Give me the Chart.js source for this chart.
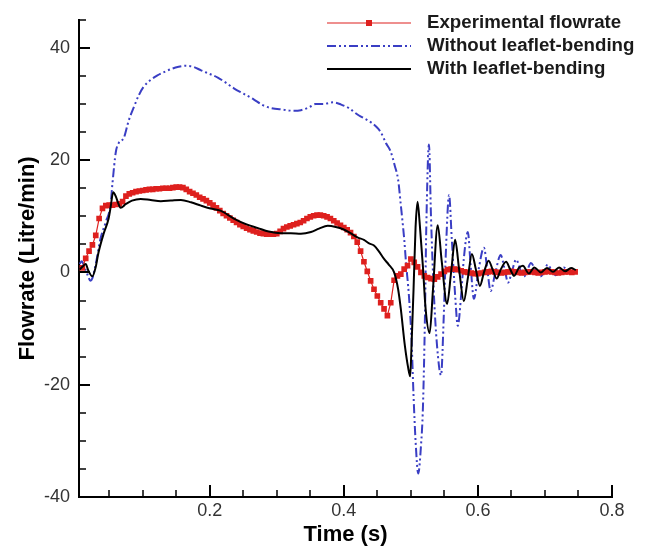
<!DOCTYPE html>
<html>
<head>
<meta charset="utf-8">
<script src="https://cdn.jsdelivr.net/npm/chart.js@4/dist/chart.umd.min.js"></script>
<style>
html, body { margin: 0; padding: 0; background: #fff; }
#wrap { width: 648px; height: 549px; }
</style>
</head>
<body>
<div id="wrap"><canvas id="chart" width="648" height="549"></canvas></div>
<script>
// experimental flowrate (red squares)
var expTime = [0.010,0.015,0.020,0.025,0.030,0.035,0.040,0.045,0.050,0.055,0.060,0.065,0.070,0.075,0.080,0.085,0.090,0.095,0.100,0.105,
	0.110,0.115,0.120,0.125,0.130,0.135,0.140,0.145,0.150,0.155,0.160,0.165,0.170,0.175,0.180,0.185,0.190,0.195,0.200,0.205,
	0.210,0.215,0.220,0.225,0.230,0.235,0.240,0.245,0.250,0.255,0.260,0.265,0.270,0.275,0.280,0.285,0.290,0.295,0.300,0.305,
	0.310,0.315,0.320,0.325,0.330,0.335,0.340,0.345,0.350,0.355,0.360,0.365,0.370,0.375,0.380,0.385,0.390,0.395,0.400,0.405,
	0.410,0.415,0.420,0.425,0.430,0.435,0.440,0.445,0.450,0.455,0.460,0.465,0.470,0.475,0.480,0.485,0.490,0.495,0.500,0.505,
	0.510,0.515,0.520,0.525,0.530,0.535,0.540,0.545,0.550,0.555,0.560,0.565,0.570,0.575,0.580,0.585,0.590,0.595,0.600,0.605,
	0.610,0.615,0.620,0.625,0.630,0.635,0.640,0.645,0.650,0.655,0.660,0.665,0.670,0.675,0.680,0.685,0.690,0.695,0.700,0.705,
	0.710,0.715,0.720,0.725,0.730,0.735,0.740,0.745];
var expFlow = [0.8,2.5,3.8,4.9,6.6,9.6,11.4,11.9,12.0,12.0,12.1,12.2,12.6,13.6,14.0,14.2,14.4,14.5,14.6,14.7,
	14.8,14.8,14.9,14.9,15.0,15.0,15.0,15.1,15.2,15.2,15.1,14.8,14.4,14.1,13.8,13.4,13.1,12.8,12.4,12.0,
	11.5,11.0,10.5,10.1,9.7,9.3,8.9,8.5,8.2,7.9,7.6,7.4,7.2,7.0,6.9,6.8,6.8,6.8,6.9,7.3,
	7.8,8.1,8.3,8.5,8.7,8.9,9.2,9.6,9.9,10.1,10.2,10.2,10.1,9.9,9.6,9.2,8.8,8.4,8.0,7.6,
	7.1,6.4,5.4,3.8,1.9,0.2,-1.5,-3.0,-4.2,-5.4,-6.5,-7.7,-5.4,-1.4,-0.6,-0.3,0.6,1.2,2.4,1.8,
	1.0,0.0,-0.6,-0.9,-1.1,-1.2,-0.8,-0.3,0.2,0.5,0.6,0.6,0.5,0.3,0.1,0.0,-0.1,-0.2,-0.2,-0.1,
	0.0,0.1,0.2,0.1,0.0,-0.1,0.0,0.1,0.2,0.1,0.0,-0.1,0.0,0.1,0.1,0.0,-0.1,0.0,0.1,0.2,
	0.1,0.0,-0.1,0.0,0.1,0.1,0.0,0.1];

// without leaflet-bending (blue dash-dot-dot)
var noBendTime = [0.006,0.009,0.013,0.018,0.022,0.025,0.030,0.037,0.045,0.052,0.055,0.060,0.064,0.072,0.079,0.087,0.094,0.101,0.112,0.122,
	0.134,0.149,0.164,0.176,0.187,0.201,0.212,0.224,0.236,0.251,0.266,0.279,0.291,0.310,0.324,0.336,0.348,0.358,0.369,0.384,
	0.396,0.407,0.422,0.437,0.448,0.455,0.463,0.470,0.476,0.481,0.485,0.490,0.493,0.497,0.501,0.504,0.507,0.511,0.515,0.518,
	0.521,0.523,0.527,0.530,0.534,0.539,0.545,0.549,0.552,0.557,0.561,0.566,0.570,0.575,0.579,0.585,0.589,0.594,0.601,0.609,
	0.614,0.619,0.626,0.634,0.640,0.645,0.651,0.657,0.663,0.669,0.674,0.679,0.686,0.694,0.699,0.704,0.710,0.716,0.722,0.728,
	0.734,0.739,0.746];
var noBendFlow = [1.5,2.0,1.0,-0.5,-1.5,-1.0,1.5,6.0,9.0,12.0,16.0,21.5,23.0,24.0,27.0,29.5,31.5,33.0,34.3,35.1,
	35.8,36.5,36.8,36.6,36.0,35.3,34.7,33.8,32.8,31.8,30.8,29.8,29.3,29.0,28.8,28.9,29.4,30.0,30.0,30.3,
	29.9,29.3,28.0,27.0,26.0,25.0,23.0,21.5,19.0,16.5,12.0,6.0,1.4,-4.0,-12.0,-22.0,-30.0,-35.8,-31.0,-24.0,
	-8.0,8.0,22.8,10.0,-3.0,-13.0,-18.3,-8.0,3.0,13.8,6.0,-4.0,-9.5,-4.0,2.5,7.2,1.5,-4.7,0.5,4.4,
	0.5,-3.3,0.0,3.1,0.5,-1.8,0.3,2.3,0.6,-0.7,0.5,1.7,0.4,-0.7,0.3,1.4,0.3,-0.5,0.2,0.9,
	0.2,-0.3,0.3];

// with leaflet-bending (black solid)
var bendTime = [0.006,0.010,0.015,0.019,0.025,0.030,0.034,0.042,0.049,0.052,0.056,0.060,0.063,0.067,0.075,0.084,0.097,0.112,0.127,0.142,
	0.157,0.172,0.187,0.201,0.216,0.236,0.254,0.272,0.288,0.306,0.321,0.336,0.351,0.363,0.376,0.388,0.399,0.410,0.421,0.430,
	0.437,0.445,0.452,0.460,0.467,0.475,0.481,0.485,0.491,0.496,0.499,0.501,0.504,0.507,0.510,0.513,0.518,0.522,0.528,0.533,
	0.540,0.546,0.554,0.560,0.566,0.572,0.579,0.585,0.591,0.597,0.603,0.609,0.616,0.622,0.628,0.634,0.642,0.648,0.654,0.661,
	0.667,0.676,0.684,0.694,0.703,0.712,0.721,0.730,0.739,0.746];
var bendFlow = [0.5,1.0,1.5,0.3,-0.7,1.0,3.5,7.0,9.5,11.5,14.3,13.5,12.5,11.5,12.2,12.8,13.1,12.9,12.7,12.8,
	12.9,12.5,11.9,11.4,11.0,9.6,8.6,7.9,7.3,7.0,7.0,6.9,7.2,7.8,8.3,8.1,7.7,7.0,6.2,5.8,
	5.2,4.8,3.8,2.4,1.4,0.0,-3.0,-6.5,-13.0,-17.0,-18.5,-13.0,-3.0,8.0,12.6,9.0,1.0,-6.5,-10.8,-3.0,
	8.4,2.0,-5.6,0.0,5.8,0.5,-5.1,-1.0,3.3,0.5,-2.4,0.0,2.1,0.5,-1.1,0.5,1.9,0.6,-0.6,0.8,
	1.2,-0.2,0.9,0.0,0.8,0.1,0.9,0.2,0.8,0.4];

var xTicks = [0.2, 0.4, 0.6, 0.8];
var yTicks = [-40, -20, 0, 20, 40];

var RED = "rgb(222, 32, 30)";
var BLUE = "rgb(58, 62, 196)";
var BLACK = "#000";
var FONT = "'Liberation Sans', Arial, sans-serif";

function pts(t, v) {
	var out = [];
	for (var i = 0; i < t.length; i++) out.push({x: t[i], y: v[i]});
	return out;
}

// inward tick marks + legend
var decor = {
	id: "decor",
	afterDraw: function(chart) {
		var c = chart.ctx;
		var xs = chart.scales.x, ys = chart.scales.y;
		var L = chart.chartArea.left, B = chart.chartArea.bottom;
		c.save();
		c.strokeStyle = "#000";
		// x ticks
		for (var t = 0.05; t <= 0.801; t += 0.05) {
			var major = Math.abs(t * 5 - Math.round(t * 5)) < 1e-6;
			var px = Math.round(xs.getPixelForValue(t));
			c.lineWidth = major ? 2 : 1.5;
			c.beginPath();
			c.moveTo(px, B);
			c.lineTo(px, B - (major ? 12 : 7));
			c.stroke();
		}
		// y ticks
		for (var v = -40; v <= 45; v += 5) {
			var maj = v % 20 === 0;
			var py = Math.round(ys.getPixelForValue(v));
			c.lineWidth = maj ? 2 : 1.5;
			c.beginPath();
			c.moveTo(L, py);
			c.lineTo(L + (maj ? 11 : 7), py);
			c.stroke();
		}
		// legend
		var x0 = 327, x1 = 411, tx = 427;
		var rows = [23, 46, 69];
		c.lineWidth = 1.2;
		c.strokeStyle = RED;
		c.beginPath(); c.moveTo(x0, rows[0]); c.lineTo(x1, rows[0]); c.stroke();
		c.fillStyle = RED;
		c.fillRect(366, rows[0] - 3, 6, 6);
		c.lineWidth = 2;
		c.strokeStyle = BLUE;
		c.setLineDash([9, 3, 2, 3, 2, 3]);
		c.beginPath(); c.moveTo(x0, rows[1]); c.lineTo(x1, rows[1]); c.stroke();
		c.setLineDash([]);
		c.strokeStyle = BLACK;
		c.beginPath(); c.moveTo(x0, rows[2]); c.lineTo(x1, rows[2]); c.stroke();
		c.fillStyle = "#1a1a1a";
		c.font = "bold 18.7px " + FONT;
		c.textBaseline = "middle";
		c.textAlign = "left";
		c.fillText("Experimental flowrate", tx, rows[0]);
		c.fillText("Without leaflet-bending", tx, rows[1]);
		c.fillText("With leaflet-bending", tx, rows[2]);
		c.restore();
	}
};

new Chart(document.getElementById("chart"), {
	type: "scatter",
	data: {
		datasets: [{
			label: "Experimental flowrate",
			data: pts(expTime, expFlow),
			showLine: true,
			borderColor: RED,
			borderWidth: 1.2,
			pointStyle: "rect",
			pointRadius: 4,
			pointBackgroundColor: RED,
			pointBorderWidth: 0,
			order: 1
		}, {
			label: "Without leaflet-bending",
			data: pts(noBendTime, noBendFlow),
			showLine: true,
			borderColor: BLUE,
			borderWidth: 2,
			borderDash: [9, 3, 2, 3, 2, 3],
			pointRadius: 0,
			cubicInterpolationMode: "monotone",
			order: 2
		}, {
			label: "With leaflet-bending",
			data: pts(bendTime, bendFlow),
			showLine: true,
			borderColor: BLACK,
			borderWidth: 2,
			pointRadius: 0,
			cubicInterpolationMode: "monotone",
			order: 0
		}]
	},
	options: {
		responsive: false,
		animation: false,
		layout: { padding: { left: 0, right: 36, top: 11, bottom: 0 } },
		plugins: { legend: { display: false }, tooltip: { enabled: false } },
		scales: {
			x: {
				type: "linear",
				min: 0.005,
				max: 0.8,
				afterBuildTicks: function(s) { s.ticks = xTicks.map(function(v) { return {value: v}; }); },
				afterFit: function(s) { s.height = 52; },
				grid: { display: false, drawTicks: false },
				border: { display: true, color: "#000", width: 2 },
				ticks: {
					padding: 3,
					color: "#333",
					font: { family: FONT, size: 18 },
					callback: function(v) { return v.toFixed(1); }
				},
				title: {
					display: true,
					text: "Time (s)",
					color: "#000",
					font: { family: FONT, size: 22, weight: "bold" },
					padding: { top: 0, bottom: 1 }
				}
			},
			y: {
				min: -40,
				max: 45,
				afterBuildTicks: function(s) { s.ticks = yTicks.map(function(v) { return {value: v}; }); },
				afterFit: function(s) { s.width = 79; },
				grid: { display: false, drawTicks: false },
				border: { display: true, color: "#000", width: 2 },
				ticks: {
					padding: 9,
					color: "#333",
					font: { family: FONT, size: 18 }
				},
				title: {
					display: true,
					text: "Flowrate (Litre/min)",
					color: "#000",
					font: { family: FONT, size: 22, weight: "bold" },
					padding: { top: 15, bottom: 0 }
				}
			}
		}
	},
	plugins: [decor]
});
</script>
</body>
</html>
